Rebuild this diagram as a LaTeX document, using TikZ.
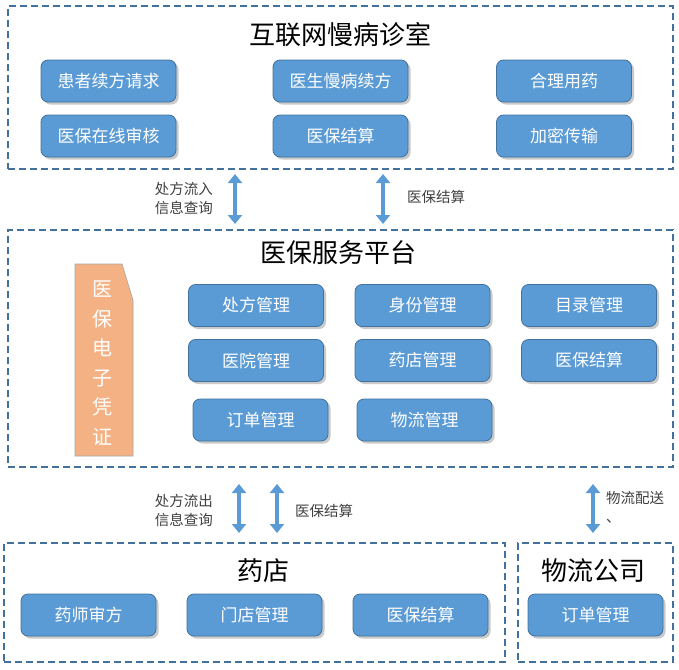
\documentclass[tikz,border=0pt]{standalone}
\usepackage{fontspec}
\setmainfont{Noto Sans CJK SC}
\usetikzlibrary{shadows,arrows.meta}
\definecolor{boxblue}{HTML}{5B9BD5}
\definecolor{boxedge}{HTML}{41719C}
\definecolor{frameblue}{HTML}{41719C}
\definecolor{orangefill}{HTML}{F4B183}
\definecolor{labelgray}{HTML}{404040}
\tikzset{
  box/.style={rectangle, rounded corners=7pt, fill=boxblue, draw=boxedge, line width=0.8pt,
    text=white, minimum width=135pt, minimum height=42pt, inner sep=0pt,
    font=\fontsize{17}{17}\selectfont,
    drop shadow={shadow xshift=2.5pt, shadow yshift=-2.5pt, opacity=0.35, fill=black!60}},
  frame/.style={rectangle, draw=frameblue, line width=1.8pt, dash pattern=on 7pt off 4pt, inner sep=0pt},
  ftitle/.style={font=\fontsize{26}{26}\selectfont, text=black, inner sep=0pt},
  lbl/.style={font=\fontsize{14.5}{19}\selectfont, text=labelgray, inner sep=0pt, align=left},
  dblarrow/.style={draw=boxblue, line width=4pt, {Triangle[width=14pt,length=9pt]}-{Triangle[width=14pt,length=9pt]}}
}
\begin{document}
\begin{tikzpicture}[x=1pt,y=-1pt]
\useasboundingbox (0,0) rectangle (679,669);
% frames
\node[frame, minimum width=665pt, minimum height=163pt] (fTop) at (340.5,87.5) {};
\node[frame, minimum width=665pt, minimum height=237pt] (fMid) at (340.5,348.5) {};
\node[frame, minimum width=501pt, minimum height=119pt] (fShop) at (254.5,602.5) {};
\node[frame, minimum width=155pt, minimum height=119pt] (fLog) at (595.5,602.5) {};
% titles
\node[ftitle] (tTop) at (340,35) {互联网慢病诊室};
\node[ftitle] (tMid) at (338,253) {医保服务平台};
\node[ftitle] (tShop) at (263,571) {药店};
\node[ftitle] (tLog) at (593,571) {物流公司};
% top boxes
\node[box] (b11) at (108.5,81) {患者续方请求};
\node[box] (b12) at (340.5,81) {医生慢病续方};
\node[box] (b13) at (564,81) {合理用药};
\node[box] (b21) at (108.5,136) {医保在线审核};
\node[box] (b22) at (340.5,136) {医保结算};
\node[box] (b23) at (564,136) {加密传输};
% middle boxes
\node[box] (m11) at (256,305.5) {处方管理};
\node[box] (m12) at (422.5,305.5) {身份管理};
\node[box] (m13) at (589,305.5) {目录管理};
\node[box] (m21) at (256,360.5) {医院管理};
\node[box] (m22) at (422.5,360.5) {药店管理};
\node[box] (m23) at (589,360.5) {医保结算};
\node[box] (m31) at (260.5,420) {订单管理};
\node[box] (m32) at (424.5,420) {物流管理};
% orange credential
\draw[fill=orangefill, draw=black!35, line width=0.6pt] (75,264) -- (122,264) -- (133,300) -- (133,456) -- (75,456) -- cycle;
\node[text=white, font=\fontsize{20}{29.5}\selectfont, align=center, inner sep=0pt] (cred) at (102,363) {医\\保\\电\\子\\凭\\证};
% bottom boxes
\node[box] (s1) at (88.5,615) {药师审方};
\node[box] (s2) at (254.5,615) {门店管理};
\node[box] (s3) at (420.5,615) {医保结算};
\node[box] (l1) at (595.5,615) {订单管理};
% arrows
\coordinate (a1t) at (235,174); \coordinate (a1b) at (235,224);
\coordinate (a2t) at (383,174); \coordinate (a2b) at (383,224);
\coordinate (a3t) at (239,484); \coordinate (a3b) at (239,533);
\coordinate (a4t) at (277,484); \coordinate (a4b) at (277,533);
\coordinate (a5t) at (593,484); \coordinate (a5b) at (593,533);
\draw[dblarrow] (a1t) -- (a1b);
\draw[dblarrow] (a2t) -- (a2b);
\draw[dblarrow] (a3t) -- (a3b);
\draw[dblarrow] (a4t) -- (a4b);
\draw[dblarrow] (a5t) -- (a5b);
% labels
\node[lbl, anchor=east] (l1a) at (213,198) {处方流入\\信息查询};
\node[lbl, anchor=west] (l2a) at (407,197) {医保结算};
\node[lbl, anchor=east] (l3a) at (213,510) {处方流出\\信息查询};
\node[lbl, anchor=west] (l4a) at (295,511) {医保结算};
\node[lbl, anchor=north west] (l5a) at (606,491) {物流配送\\、};
\end{tikzpicture}
\end{document}
